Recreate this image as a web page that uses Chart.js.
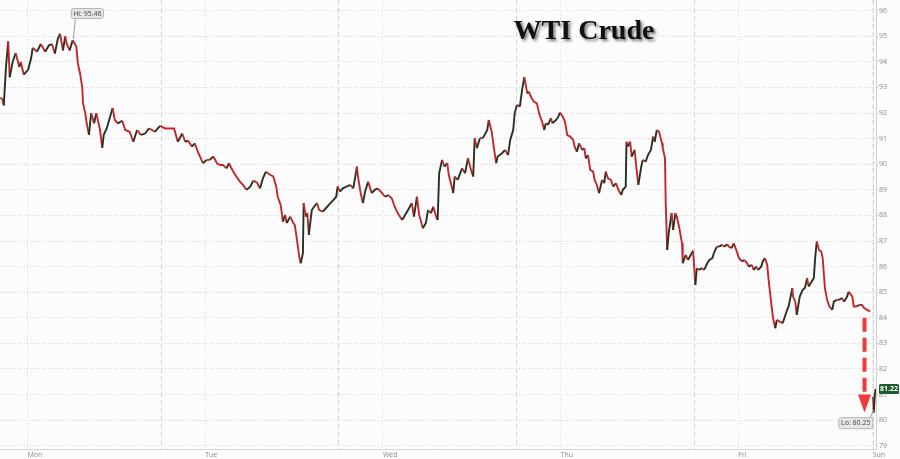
<!DOCTYPE html>
<html>
<head>
<meta charset="utf-8">
<script src="https://cdn.jsdelivr.net/npm/chart.js@4.4.0/dist/chart.umd.min.js"></script>
<style>
  html, body { margin: 0; padding: 0; background: #fcfcfc; }
  #wrap { position: relative; width: 900px; height: 459px; }
</style>
</head>
<body>
<div id="wrap"><canvas id="wtiChart"></canvas></div>
<script>
// Hours since Monday 00:00 (weekend gap collapsed after Friday close)
const hours = [
  -3.7, -3.4, -3.2, -2.9, -2.6, -2.4, -2.0, -1.6, -1.1, -0.9, -0.5, 0.1, 0.5, 0.7, 1.3, 1.8,
  2.4, 2.9, 3.3, 3.7, 4.1, 4.4, 4.8, 5.1, 5.3, 5.7, 6.1, 6.6, 6.8, 7.1, 7.4, 7.5,
  7.8, 8.0, 8.3, 8.6, 9.0, 9.3, 9.5, 9.8, 10.1, 10.3, 10.7, 11.1, 11.5, 11.8, 12.2, 12.8,
  13.2, 13.8, 14.3, 14.8, 15.3, 15.9, 16.4, 16.8, 17.2, 17.9, 18.6, 19.3, 19.8,
  20.3, 20.9, 21.3, 21.7, 22.2, 22.6, 23.0, 23.7, 24.2, 24.6, 25.1, 25.6, 26.0, 26.4,
  26.9, 27.2, 27.8, 28.2, 28.7, 29.1, 29.6, 30.1, 30.5, 31.0, 31.4, 31.8, 32.2, 32.8,
  33.2, 33.6, 33.8, 34.2, 34.5, 34.8, 35.0, 35.5, 35.9, 36.1, 36.4, 36.7, 36.9, 37.2,
  37.3, 37.6, 37.8, 38.0, 38.4, 38.7, 39.1, 39.4, 39.9, 40.3, 40.7, 41.3, 41.7, 41.9,
  42.2, 42.6, 43.1,
  43.6, 44.0, 44.5, 44.6, 45.0, 45.3, 45.6, 46.0, 46.5, 46.9, 47.3, 47.9, 48.3, 48.7,
  49.2, 49.6, 50.0, 50.6, 51.0, 51.4, 51.9, 52.2, 52.6, 52.9, 53.4, 53.8, 54.1, 54.5,
  54.8, 55.2, 55.4, 55.6, 56.0, 56.3, 56.7, 56.9, 57.3, 57.5, 57.7, 58.1, 58.7, 59.1,
  59.5, 59.9, 60.2, 60.4, 60.7, 61.1, 61.5, 62.1, 62.3, 62.7, 63.0, 63.3, 63.5, 64.1,
  64.5, 64.9, 65.2, 65.6, 65.8, 66.1, 66.5, 66.8, 67.1, 67.5, 67.7, 68.1, 68.4, 68.8,
  69.1, 69.5, 69.8, 70.0, 70.3, 70.7, 70.9, 71.4, 71.7, 71.9, 72.3, 72.6, 72.9, 73.3,
  73.7, 73.9, 74.2, 74.5, 74.9, 75.2, 75.4, 75.7, 76.0, 76.4, 76.6, 76.9, 77.2, 77.6,
  77.9, 78.1, 78.4, 78.8, 79.1, 79.5, 79.8, 80.2, 80.4, 80.8, 80.9, 81.1, 81.4, 81.6,
  82.0, 82.3, 82.5, 82.9, 83.1, 83.5, 83.8, 84.2, 84.5, 84.7, 85.0, 85.3, 85.7, 85.8,
  86.1, 86.2, 86.4, 86.6, 87.0, 87.2, 87.5, 87.7, 88.0, 88.4, 88.5, 88.9, 89.2, 89.6,
  89.9, 90.2, 90.4, 90.7, 91.1, 91.4, 91.8, 92.1, 92.5, 92.7, 93.1, 93.4, 93.8, 94.1,
  94.5, 94.7, 95.1, 95.4, 95.8, 96.1, 96.5, 96.8, 97.2, 97.4, 97.8, 98.1, 98.4, 98.7,
  99.1, 99.3, 99.6, 99.9, 100.1, 100.4, 100.7, 101.0, 101.2, 101.6, 102.0, 102.3, 102.6,
  102.8, 103.3, 103.4, 103.7, 103.9, 104.3, 104.7, 105.0, 105.3, 105.5, 105.9, 106.2,
  106.4, 106.6, 106.9, 107.2, 107.4, 107.7, 108.0, 108.3, 108.7, 108.9, 109.3, 109.6,
  110.0, 110.3, 110.7, 110.9, 111.4, 111.6, 112.0, 112.3, 112.7, 113.0, 113.4, 113.8,
  114.0, 114.2, 114.3, 114.45, 114.55
];

// WTI crude prices ($/bbl); null = weekend gap
const prices = [
  92.6, 92.55, 92.3, 93.8, 94.8, 93.4, 94.0, 94.35, 93.8, 94.0, 93.5, 93.7, 94.15, 94.55, 94.4, 94.7,
  94.4, 94.65, 94.7, 94.33, 94.9, 95.1, 94.45, 95.0, 94.7, 94.45, 94.85, 94.6, 93.95, 93.55, 93.0, 92.4,
  92.0, 91.6, 91.15, 92.0, 91.6, 92.0, 91.73, 91.34, 90.64, 91.15, 91.4, 91.8, 92.2, 91.73, 91.6, 91.7,
  91.34, 91.27, 90.88, 91.34, 91.15, 91.2, 91.4, 91.34, 91.27, 91.5, 91.4, 91.4, 91.4,
  90.88, 91.2, 90.88, 90.92, 90.69, 90.82, 90.49, 90.04, 90.17, 90.17, 90.3, 90.04, 89.97, 89.97,
  89.84, 90.04, 89.71, 89.52, 89.32, 89.19, 89.0, 89.13, 89.36, 89.28, 89.06, 89.45, 89.71, 89.58,
  89.52, 89.13, 88.73, 88.41, 87.76, 88.02, 87.7, 87.95, 87.7, 87.63, 87.04, 86.39, 86.13, 86.52,
  88.48, 87.95, 88.09, 87.24, 88.21, 88.34, 88.48, 88.21, 88.15, 88.28, 88.41, 88.6, 88.73, 89.13,
  88.93, 89.06, 89.13,
  89.19, 89.06, 89.91, 89.58, 88.87, 88.48, 88.93, 89.32, 88.87, 89.0, 89.06, 88.87, 88.73, 88.8,
  88.67, 88.34, 88.09, 87.82, 88.02, 88.21, 88.48, 87.95, 88.73, 88.02, 87.5, 87.7, 88.21, 88.09,
  88.34, 87.95, 87.82, 89.65, 90.17, 89.91, 90.04, 89.58, 89.13, 88.87, 89.52, 89.39, 89.84, 89.65,
  90.24, 89.78, 89.52, 91.02, 90.63, 91.02, 91.02, 91.34, 91.73, 91.27, 90.63, 90.04, 90.3, 90.43,
  90.56, 90.36, 90.95, 91.34, 91.99, 92.32, 92.25, 92.9, 93.4, 92.77, 92.84, 92.58, 92.45, 92.38,
  91.99, 91.66, 91.34, 91.6, 91.54, 91.8, 91.6, 91.73, 91.86, 92.02, 91.86, 91.66, 91.14, 91.08,
  90.95, 90.69, 90.49, 90.82, 90.56, 90.63, 90.23, 90.36, 89.78, 89.71, 89.39, 89.19, 88.87, 89.39,
  89.26, 89.71, 89.45, 89.39, 89.13, 89.26, 89.0, 88.8, 89.0, 89.13, 90.88, 90.69, 90.88, 90.3,
  90.56, 89.71, 89.19, 89.91, 90.17, 90.1, 90.36, 90.56, 91.08, 90.88, 91.34, 91.27, 90.82, 90.63,
  90.23, 88.48, 86.65, 87.3, 88.09, 87.43, 88.09, 87.95, 87.56, 86.91, 86.13, 86.46, 86.26, 86.46,
  86.62, 85.28, 85.94, 85.87, 85.94, 85.87, 86.13, 86.26, 86.33, 86.52, 86.78, 86.78, 86.85, 86.78,
  86.87, 86.78, 86.72, 86.91, 86.59, 86.33, 86.2, 86.26, 86.13, 86.0, 86.07, 85.87, 86.0, 85.87,
  86.0, 86.2, 86.33, 86.07, 85.48, 84.7, 83.98, 83.59, 83.92, 83.85, 83.79, 84.05, 84.31,
  84.44, 85.16, 84.83, 84.63, 84.11, 84.83, 85.09, 85.16, 85.55, 85.22, 85.41, 85.55,
  86.39, 86.98, 86.65, 86.59, 86.33, 85.16, 84.7, 84.44, 84.31, 84.63, 84.7, 84.7,
  84.77, 84.63, 84.83, 85.02, 84.83, 84.44, 84.44, 84.5, 84.5, 84.38, 84.31, 84.25,
  null, 80.9, 80.3, 81.0, 81.22
];

const dayTicks = [0, 24, 48, 72, 96, 114.15];
const dayLabels = ['Mon', 'Tue', 'Wed', 'Thu', 'Fri', 'Sun'];
const sessionOpens = [18, 42, 66, 90, 114.15]; // dashed separators (18:00 open)
const priceTicks = [79, 80, 81, 82, 83, 84, 85, 86, 87, 88, 89, 90, 91, 92, 93, 94, 95, 96];

const hiPrice = 95.46, hiHour = 6.2;
const loPrice = 80.25, loHour = 114.3;
const lastPrice = 81.22;

const UP = '#24331f';
const DOWN = '#c4262b';

// dashed vertical lines at each session open
const sessionLines = {
    id: 'sessionLines',
    beforeDatasetsDraw(chart) {
        const { ctx, chartArea, scales: { x } } = chart;
        ctx.save();
        ctx.strokeStyle = '#d4d4d4';
        ctx.lineWidth = 1;
        ctx.setLineDash([5, 3]);
        sessionOpens.forEach(h => {
            const px = Math.round(x.getPixelForValue(h)) + 0.5;
            ctx.beginPath();
            ctx.moveTo(px, chartArea.top);
            ctx.lineTo(px, chartArea.bottom);
            ctx.stroke();
        });
        ctx.restore();
    }
};

function roundRect(ctx, x, y, w, h, r) {
    ctx.beginPath();
    ctx.moveTo(x + r, y);
    ctx.arcTo(x + w, y, x + w, y + h, r);
    ctx.arcTo(x + w, y + h, x, y + h, r);
    ctx.arcTo(x, y + h, x, y, r);
    ctx.arcTo(x, y, x + w, y, r);
    ctx.closePath();
}

// Hi/Lo tags, last price tag, red arrow and the title
const annotations = {
    id: 'annotations',
    afterDatasetsDraw(chart) {
        const { ctx, scales: { x, y } } = chart;
        ctx.save();
        ctx.font = '7px "Open Sans", sans-serif';
        ctx.textBaseline = 'middle';
        ctx.textAlign = 'center';

        // Hi tag
        const hx = x.getPixelForValue(hiHour);
        const hy = y.getPixelForValue(hiPrice);
        ctx.strokeStyle = '#9a9a9a';
        ctx.lineWidth = 1;
        ctx.beginPath();
        ctx.moveTo(hx + 2, hy - 6);
        ctx.lineTo(hx, y.getPixelForValue(94.9));
        ctx.stroke();
        roundRect(ctx, hx - 2, hy - 16, 32, 10, 2);
        ctx.fillStyle = '#e6e6e6';
        ctx.fill();
        ctx.strokeStyle = '#b5b5b5';
        ctx.stroke();
        ctx.fillStyle = '#444';
        ctx.fillText('Hi: ' + hiPrice.toFixed(2), hx + 14, hy - 11);

        // Lo tag
        const lx = x.getPixelForValue(loHour);
        const ly = y.getPixelForValue(loPrice);
        ctx.strokeStyle = '#9a9a9a';
        ctx.beginPath();
        ctx.moveTo(lx - 4, ly + 5);
        ctx.lineTo(lx, ly - 4);
        ctx.stroke();
        roundRect(ctx, lx - 35, ly + 4, 34, 11, 2);
        ctx.fillStyle = '#e6e6e6';
        ctx.fill();
        ctx.strokeStyle = '#b5b5b5';
        ctx.stroke();
        ctx.fillStyle = '#444';
        ctx.fillText('Lo: ' + loPrice.toFixed(2), lx - 18, ly + 9.5);

        // last price tag on the axis
        const py = y.getPixelForValue(lastPrice);
        const ax = chart.chartArea.right;
        roundRect(ctx, ax + 3, py - 5, 20, 10, 1.5);
        ctx.fillStyle = '#1e5a2a';
        ctx.fill();
        ctx.fillStyle = '#ffffff';
        ctx.font = 'bold 7px "Open Sans", sans-serif';
        ctx.fillText(lastPrice.toFixed(2), ax + 13, py);

        // red dashed arrow
        const arX = x.getPixelForValue(113.05);
        const yTop = y.getPixelForValue(84.0);
        const yBase = y.getPixelForValue(81.0);
        const yTip = y.getPixelForValue(80.3);
        ctx.strokeStyle = '#f03a3a';
        ctx.lineWidth = 4;
        ctx.setLineDash([14, 6]);
        ctx.beginPath();
        ctx.moveTo(arX, yTop);
        ctx.lineTo(arX, yBase);
        ctx.stroke();
        ctx.setLineDash([]);
        ctx.fillStyle = '#f03a3a';
        ctx.beginPath();
        ctx.moveTo(arX - 6.5, yBase);
        ctx.lineTo(arX + 6.5, yBase);
        ctx.lineTo(arX, yTip);
        ctx.closePath();
        ctx.fill();
        ctx.restore();
    },
    afterDraw(chart) {
        const { ctx } = chart;
        ctx.save();
        ctx.font = 'bold 28px "Liberation Serif", "Times New Roman", serif';
        ctx.textAlign = 'center';
        ctx.textBaseline = 'alphabetic';
        ctx.shadowColor = 'rgba(0,0,0,0.55)';
        ctx.shadowOffsetX = 2;
        ctx.shadowOffsetY = 2;
        ctx.shadowBlur = 3;
        ctx.fillStyle = '#111';
        ctx.fillText('WTI Crude', 584, 39);
        ctx.restore();
    }
};

const ctx = document.getElementById('wtiChart').getContext('2d');

new Chart(ctx, {
    type: 'line',
    data: {
        datasets: [{
            label: 'WTI Crude',
            data: hours.map((h, i) => ({ x: h, y: prices[i] })),
            borderColor: DOWN,
            borderWidth: 1.9,
            pointRadius: 0,
            tension: 0,
            spanGaps: false,
            segment: {
                borderColor: c => c.p1.parsed.y > c.p0.parsed.y ? UP : DOWN
            }
        }]
    },
    options: {
        responsive: true,
        maintainAspectRatio: false,
        animation: false,
        layout: { padding: 0 },
        plugins: {
            legend: { display: false },
            tooltip: { enabled: false }
        },
        scales: {
            x: {
                type: 'linear',
                min: -3.71,
                max: 114.6,
                afterBuildTicks: scale => {
                    scale.ticks = dayTicks.map(v => ({ value: v }));
                },
                afterFit: scale => {
                    scale.height = 10;
                    scale.paddingLeft = 0;
                    scale.paddingRight = 0;
                },
                ticks: {
                    autoSkip: false,
                    maxRotation: 0,
                    align: 'start',
                    padding: 2,
                    color: '#8a8a8a',
                    font: { family: 'Open Sans', size: 7 },
                    callback: (v, i) => dayLabels[i]
                },
                grid: {
                    color: '#dcdcdc',
                    drawTicks: false
                },
                border: {
                    display: true,
                    color: '#d6d6d6',
                    width: 1,
                    dash: [1, 2]
                }
            },
            y: {
                position: 'right',
                min: 78.87,
                max: 96.42,
                afterBuildTicks: scale => {
                    scale.ticks = priceTicks.map(v => ({ value: v }));
                },
                afterFit: scale => {
                    scale.width = 24;
                    scale.paddingTop = 0;
                    scale.paddingBottom = 0;
                },
                ticks: {
                    padding: 1,
                    color: '#8a8a8a',
                    font: { family: 'Open Sans', size: 7 }
                },
                grid: {
                    color: '#d8d8d8',
                    tickLength: 2,
                    tickColor: '#c8c8c8'
                },
                border: {
                    display: true,
                    color: '#cfcfcf',
                    width: 1,
                    dash: [1, 2]
                }
            }
        }
    },
    plugins: [sessionLines, annotations]
});
</script>
</body>
</html>
